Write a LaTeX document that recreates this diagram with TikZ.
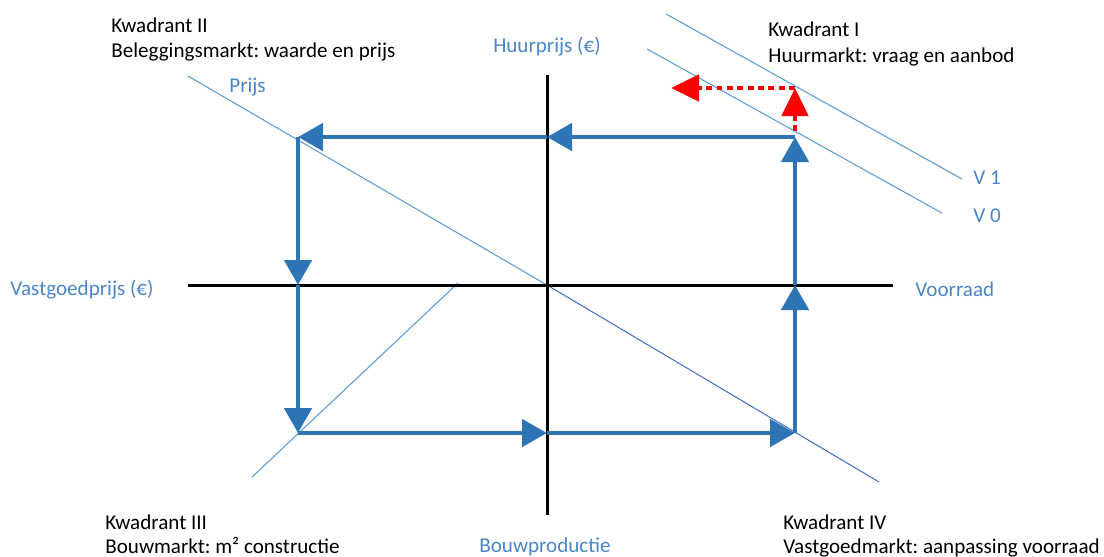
\documentclass[tikz,border=0pt]{standalone}
\usepackage{fontspec}
\setmainfont{Carlito}
\usetikzlibrary{arrows.meta}
\usetikzlibrary{positioning}
\frenchspacing

\definecolor{pijlblauw}{RGB}{46,117,182}
\definecolor{lijnblauw}{RGB}{91,155,213}
\definecolor{donkerblauw}{RGB}{68,114,196}
\definecolor{tekstblauw}{RGB}{74,134,200}

\begin{document}
\begin{tikzpicture}[
  x=0.02cm,
  y=-0.02cm,
  every node/.style={font=\fontsize{12}{14}\selectfont, inner sep=0pt},
  lbl/.style={anchor=base west, text=black},
  aslabel/.style={anchor=base west, text=tekstblauw},
  assen/.style={draw=black, line width=1.7pt},
  pijl/.style={draw=pijlblauw, line width=2.8pt, -{Triangle[length=0.5cm,width=0.54cm]}},
  verschuiving/.style={draw=red, line width=2.8pt, dash pattern=on 3.3pt off 2.6pt, -{Triangle[length=0.56cm,width=0.52cm]}},
  lijn/.style={draw=lijnblauw, line width=0.6pt}
]

\useasboundingbox (0,0) rectangle (1104,556);

% punten van de vier kwadranten
\coordinate (O) at (547,285);
\coordinate (lb) at (298,137);
\coordinate (rb) at (795,137);
\coordinate (lo) at (298,433);
\coordinate (ro) at (795,433);
\coordinate (boven) at (547,137);
\coordinate (links) at (298,285);
\coordinate (onder) at (547,433);
\coordinate (rechts) at (795,285);

% assen
\coordinate (xl) at (188,285);
\coordinate (xr) at (893,285);
\coordinate (yt) at (547,75);
\coordinate (yb) at (547,515);

% dunne lijnen
\coordinate (p1) at (188,76);
\coordinate (p2) at (879,482);
\coordinate (b1) at (252,477);
\coordinate (b2) at (458,283);
\coordinate (v0a) at (647,49);
\coordinate (v0b) at (942,213);
\coordinate (v1a) at (666,14);
\coordinate (v1b) at (962,179);

\draw[lijn] (p1) -- (O);
\draw[lijn, draw=donkerblauw] (O) -- (p2);
\draw[lijn] (b1) -- (b2);
\draw[lijn] (v0a) -- (v0b);
\draw[lijn] (v1a) -- (v1b);

\draw[assen] (xl) -- (xr);
\draw[assen] (yt) -- (yb);

% de kringloop
\draw[pijl] (rb) -- (boven);
\draw[pijl] (boven) -- (lb);
\draw[pijl] (lb) -- (links);
\draw[pijl] (links) -- (lo);
\draw[pijl] (lo) -- (onder);
\draw[pijl] (onder) -- (ro);
\draw[pijl] (ro) -- (rechts);
\draw[pijl] (rechts) -- (rb);

% verschuiving van de vraag
\coordinate (r0) at (795,131);
\coordinate (r1) at (795,88);
\coordinate (r2) at (671,88);
\draw[verschuiving] (r0) -- (r1);
\draw[verschuiving] (r1) -- (r2);

% teksten
\node[lbl] (k2) at (111,32) {Kwadrant II};
\node[lbl] (k2b) at (111,57) {Beleggingsmarkt: waarde en prijs};
\node[lbl] (k1) at (768,36) {Kwadrant I};
\node[lbl] (k1b) at (768,62) {Huurmarkt: vraag en aanbod};
\node[lbl] (k3) at (105,529) {Kwadrant III};
\node[lbl] (k3b) at (105,553) {Bouwmarkt: m² constructie};
\node[lbl] (k4) at (783,529) {Kwadrant IV};
\node[lbl] (k4b) at (783,553) {Vastgoedmarkt: aanpassing voorraad};

\node[aslabel] (prijs) at (229,92) {Prijs};
\node[aslabel, anchor=base] (huur) at (547,52) {Huurprijs (€)};
\node[aslabel] (v1) at (973,184) {V 1};
\node[aslabel] (v0) at (973,222) {V 0};
\node[aslabel] (vgp) at (10,295) {Vastgoedprijs (€)};
\node[aslabel] (voorraad) at (915,296) {Voorraad};
\node[aslabel, anchor=base] (bouw) at (545,552) {Bouwproductie};

\end{tikzpicture}
\end{document}
